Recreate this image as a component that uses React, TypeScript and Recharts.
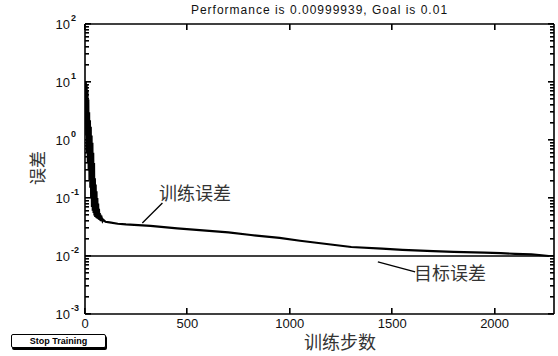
import React from 'react';
import { LineChart, Line, XAxis, YAxis, ReferenceLine } from 'recharts';

// training record (epoch -> performance)
const epochs = [
  0, 2, 4, 6, 8, 10, 12, 14, 16, 18, 20, 22, 24, 26, 28, 30, 32, 34, 36, 38, 40,
  42, 44, 46, 48, 50, 52, 54, 56, 58, 60, 62, 64, 66, 68, 70, 72, 74, 76, 78, 82,
  86, 90, 100, 120, 160, 200, 320, 450, 560, 700, 810, 950, 1050, 1200, 1300,
  1450, 1550, 1700, 1800, 1950, 2030, 2100, 2180, 2230, 2265,
];
const trainErr = [
  9, 2, 10, 1.2, 9, 0.6, 7, 0.4, 5, 0.3, 3, 0.2, 2.2, 0.15, 1.7, 0.1, 1.2, 0.07,
  0.9, 0.06, 0.6, 0.055, 0.4, 0.05, 0.22, 0.047, 0.17, 0.046, 0.13, 0.045, 0.1,
  0.044, 0.08, 0.043, 0.065, 0.042, 0.055, 0.041, 0.05, 0.04, 0.045, 0.04, 0.042,
  0.039, 0.038, 0.036, 0.035, 0.033, 0.03, 0.028, 0.0255, 0.023, 0.0205, 0.0183,
  0.0158, 0.0143, 0.0134, 0.0128, 0.0121, 0.0118, 0.0114, 0.0112, 0.0109, 0.0107,
  0.0103, 0.00999939,
];
const goal = 0.01;
const xMax = 2290;
const xTicks = [0, 500, 1000, 1500, 2000];
const decades = [-3, -2, -1, 0, 1, 2];

const data = epochs.map((e, i) => ({ epoch: e, perf: trainErr[i] }));

// log ticks: every decade plus 2..9 minor ticks
const yTicks: number[] = [];
decades.forEach((d) => {
  if (d === 2) {
    yTicks.push(100);
    return;
  }
  for (let m = 1; m <= 9; m++) yTicks.push(Number((m * Math.pow(10, d)).toPrecision(3)));
});

const isDecade = (v: number) => Math.abs(Math.log10(v) - Math.round(Math.log10(v))) < 1e-9;

const font = '"Liberation Sans", Arial, sans-serif';
const cjk = '"Noto Sans CJK SC", sans-serif';

const LeftTick = (props: any) => {
  const { x, y, payload } = props;
  const v = payload.value;
  const major = isDecade(v);
  const exp = Math.round(Math.log10(v));
  return (
    <g>
      <rect x={x} y={Math.round(y) - 1} width={major ? 6 : 4} height={1.6} fill="#000" />
      {major && (
        <text x={x - 15} y={y + 4.5} textAnchor="end" fontSize={13} fontFamily={font} fill="#111">
          10
        </text>
      )}
      {major && (
        <text x={x - 14} y={y - 3} textAnchor="start" fontSize={9} fontWeight="bold" fontFamily={font} fill="#111">
          {exp}
        </text>
      )}
    </g>
  );
};

const RightTick = (props: any) => {
  const { x, y, payload } = props;
  const w = isDecade(payload.value) ? 6 : 4;
  return <rect x={x - w} y={Math.round(y) - 1} width={w} height={1.6} fill="#000" />;
};

const BottomTick = (props: any) => {
  const { x, y, payload } = props;
  return (
    <g>
      <rect x={Math.round(x) - 1} y={y - 6} width={1.6} height={6} fill="#000" />
      <text x={x} y={y + 13.5} textAnchor="middle" fontSize={13} fontFamily={font} fill="#111">
        {payload.value}
      </text>
    </g>
  );
};

const TopTick = (props: any) => {
  const { x, y } = props;
  return <rect x={Math.round(x) - 1} y={y} width={1.6} height={6} fill="#000" />;
};

export default function App() {
  return (
    <div style={{ position: 'absolute', left: 0, top: 0, width: 558, height: 356, background: '#fff' }}>
      <LineChart width={558} height={356} data={data} margin={{ top: 0, right: 0, bottom: 0, left: 0 }}>
        <XAxis
          xAxisId="bottom"
          dataKey="epoch"
          type="number"
          domain={[0, xMax]}
          ticks={xTicks}
          allowDataOverflow
          height={42}
          tickSize={0}
          tickMargin={0}
          tickLine={false}
          tick={<BottomTick />}
          axisLine={{ stroke: '#000', strokeWidth: 1.6 }}
        />
        <XAxis
          xAxisId="top"
          orientation="top"
          dataKey="epoch"
          type="number"
          domain={[0, xMax]}
          ticks={xTicks}
          allowDataOverflow
          height={24}
          tickSize={0}
          tickMargin={0}
          tickLine={false}
          tick={<TopTick />}
          axisLine={{ stroke: '#000', strokeWidth: 1.6 }}
        />
        <YAxis
          yAxisId="left"
          scale="log"
          type="number"
          domain={[0.001, 100]}
          ticks={yTicks}
          interval={0}
          allowDataOverflow
          width={85}
          tickSize={0}
          tickMargin={0}
          tickLine={false}
          tick={<LeftTick />}
          axisLine={{ stroke: '#000', strokeWidth: 1.6 }}
        />
        <YAxis
          yAxisId="right"
          orientation="right"
          scale="log"
          type="number"
          domain={[0.001, 100]}
          ticks={yTicks}
          interval={0}
          allowDataOverflow
          width={4}
          tickSize={0}
          tickMargin={0}
          tickLine={false}
          tick={<RightTick />}
          axisLine={{ stroke: '#000', strokeWidth: 1.6 }}
        />
        <ReferenceLine xAxisId="bottom" yAxisId="left" y={goal} stroke="#000" strokeWidth={1.6} />
        {/* annotation leaders */}
        <ReferenceLine
          xAxisId="bottom"
          yAxisId="left"
          segment={[{ x: 280, y: 0.037 }, { x: 378, y: 0.082 }]}
          stroke="#000"
          strokeWidth={1.3}
        />
        <ReferenceLine
          xAxisId="bottom"
          yAxisId="left"
          segment={[{ x: 1430, y: 0.0079 }, { x: 1612, y: 0.0053 }]}
          stroke="#000"
          strokeWidth={1.3}
        />
        <Line
          xAxisId="bottom"
          yAxisId="left"
          dataKey="perf"
          type="linear"
          stroke="#000"
          strokeWidth={2.2}
          dot={false}
          isAnimationActive={false}
        />
      </LineChart>

      <div
        style={{
          position: 'absolute', left: 85, width: 469, top: 3, textAlign: 'center', fontFamily: font,
          fontSize: 12, letterSpacing: 1, color: '#111', whiteSpace: 'nowrap',
        }}
      >
        Performance is 0.00999939, Goal is 0.01
      </div>
      <div
        style={{
          position: 'absolute', left: 36, top: 168, transform: 'translate(-50%, -50%) rotate(-90deg)',
          fontFamily: cjk, fontSize: 17, color: '#333', whiteSpace: 'nowrap',
        }}
      >
        误差
      </div>
      <div style={{ position: 'absolute', left: 340, top: 341, transform: 'translate(-50%, -50%)', fontFamily: cjk, fontSize: 18, color: '#333', whiteSpace: 'nowrap' }}>
        训练步数
      </div>
      <div style={{ position: 'absolute', left: 195, top: 192, transform: 'translate(-50%, -50%)', fontFamily: cjk, fontSize: 18, color: '#333', whiteSpace: 'nowrap' }}>
        训练误差
      </div>
      <div style={{ position: 'absolute', left: 450, top: 272, transform: 'translate(-50%, -50%)', fontFamily: cjk, fontSize: 18, color: '#333', whiteSpace: 'nowrap' }}>
        目标误差
      </div>
      <div
        style={{
          position: 'absolute', left: 11, top: 334, width: 93, height: 12, border: '1px solid #000', borderRadius: 2,
          boxShadow: '1px 2px 0 #000', fontFamily: font, fontSize: 9, fontWeight: 'bold', lineHeight: '12px',
          textAlign: 'center', color: '#000', background: '#fff',
        }}
      >
        Stop Training
      </div>
    </div>
  );
}
